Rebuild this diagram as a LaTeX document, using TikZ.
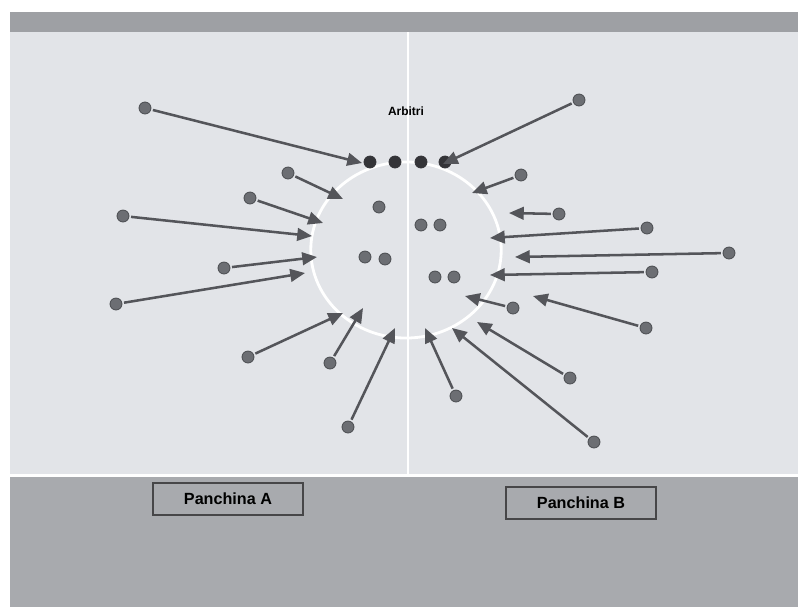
\documentclass[tikz,border=0pt]{standalone}
\usepackage{fontspec}
\setmainfont{Liberation Sans}
\usetikzlibrary{arrows.meta,positioning}
\definecolor{pitch}{RGB}{226,228,232}
\definecolor{topband}{RGB}{158,160,164}
\definecolor{benchgray}{RGB}{168,170,174}
\definecolor{dotgray}{RGB}{108,110,115}
\definecolor{dotedge}{RGB}{78,80,84}
\definecolor{refdark}{RGB}{52,52,56}
\definecolor{arrowgray}{RGB}{84,85,90}
\definecolor{boxedge}{RGB}{70,70,72}

\begin{document}
\begin{tikzpicture}[x=0.025cm,y=-0.025cm,>={Triangle[length=10.5pt,width=9pt]},font=\bfseries,
  player/.style={circle,draw=dotedge,fill=dotgray,line width=0.6pt,minimum size=8.5pt,inner sep=0pt,outer sep=1.5pt},
  referee/.style={player,draw=refdark,fill=refdark},
  pass/.style={->,line width=1.8pt,arrowgray},
  benchbox/.style={draw=boxedge,line width=0.9pt,fill=benchgray,minimum width=3.75cm,minimum height=0.8cm,font=\bfseries\fontsize{11.5}{13}\selectfont}]
  \useasboundingbox (0,0) rectangle (798,607);
  % field and benches
  \fill[white] (0,0) rectangle (798,607);
  \fill[topband] (10,12) rectangle (798,32);
  \fill[pitch] (10,32) rectangle (798,474);
  \fill[benchgray] (10,477) rectangle (798,607);
  \draw[white,line width=1.4pt] (408,32) -- (408,475);
  \draw[white,line width=2pt] (406,250) ellipse [x radius=2.38cm,y radius=2.2cm];

  \node[font=\bfseries\fontsize{8.5}{10}\selectfont] (arb) at (406,111) {Arbitri};
  \foreach \x [count=\i] in {370,395,421,445}
    \node[referee] (r\i) at (\x,162) {};
  \foreach \x/\y [count=\i] in {379/207,421/225,440/225,365/257,385/259,435/277,454/277}
    \node[player] (q\i) at (\x,\y) {};

  % players running towards the circle
  \foreach \px/\py/\tx/\ty [count=\i] in {
      145/108/362/163, 288/173/343/199, 250/198/323/223, 123/216/312/236,
      224/268/317/257, 116/304/305/273, 248/357/343/313, 330/363/363/308,
      348/427/395/328, 579/100/443/164, 521/175/472/193, 559/214/509/213,
      647/228/490/238, 729/253/515/257, 652/272/490/275, 513/308/465/296,
      646/328/533/296, 570/378/477/322, 594/442/452/328, 456/396/425/328}{
    \node[player] (p\i) at (\px,\py) {};
    \coordinate (t\i) at (\tx,\ty);
    \draw[pass] (p\i) -- (t\i);
  }

  \node[benchbox] (benchA) at (228,499) {Panchina A};
  \node[benchbox] (benchB) at (581,503) {Panchina B};
\end{tikzpicture}
\end{document}
